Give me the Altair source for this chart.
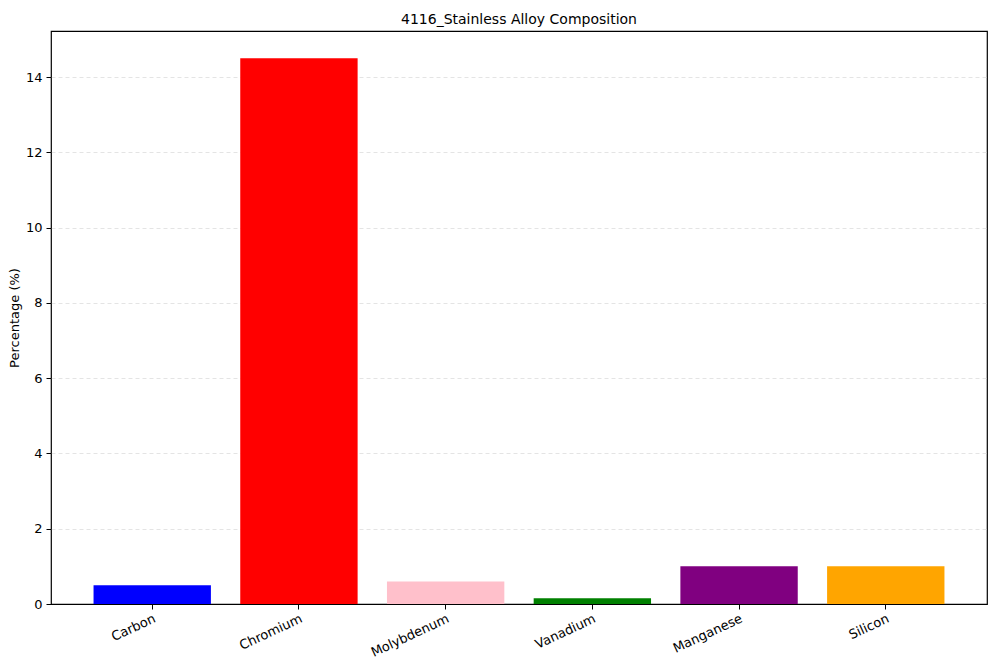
import altair as alt
import pandas as pd

elements = ["Carbon", "Chromium", "Molybdenum", "Vanadium", "Manganese", "Silicon"]
percentages = [0.5, 14.5, 0.6, 0.15, 1.0, 1.0]
colors = ["blue", "red", "pink", "green", "purple", "orange"]

df = pd.DataFrame({"Element": elements, "Percentage": percentages, "Color": colors})

font = "DejaVu Sans"

chart = alt.Chart(df).mark_bar().encode(
    x=alt.X(
        "Element:N",
        sort=elements,
        title=None,
        scale=alt.Scale(paddingInner=0.2, paddingOuter=0.29),
        axis=alt.Axis(
            labelAngle=335,
            labelAlign="right",
            labelBaseline="top",
            labelFont=font,
            labelFontSize=13,
            labelColor="black",
            tickColor="black",
            tickSize=5,
            domain=False,
            grid=False,
            labelPadding=3,
        ),
    ),
    y=alt.Y(
        "Percentage:Q",
        title="Percentage (%)",
        scale=alt.Scale(domain=[0, 15.225], nice=False, zero=True),
        axis=alt.Axis(
            values=[0, 2, 4, 6, 8, 10, 12, 14],
            labelFont=font,
            labelFontSize=13,
            labelColor="black",
            titleFont=font,
            titleFontSize=13,
            titleFontWeight="normal",
            titleColor="black",
            titlePadding=4,
            tickColor="black",
            tickSize=5,
            domain=False,
            grid=True,
            gridColor="#dddddd",
            gridDash=[4, 3],
            gridWidth=0.8,
            gridOpacity=alt.condition("datum.value == 0", alt.value(0), alt.value(1)),
            labelPadding=4,
        ),
    ),
    color=alt.Color("Color:N", scale=None, legend=None),
).properties(
    width=936,
    height=573,
    title=alt.TitleParams(
        "4116_Stainless Alloy Composition",
        font=font,
        fontSize=14,
        fontWeight="normal",
        color="black",
        offset=4,
    ),
    padding={"left": 0, "top": 5, "right": 5, "bottom": 5},
).configure(
    background="white",
).configure_view(
    stroke="black",
    strokeWidth=1.2,
)

chart.save("out.html", embed_options={"renderer": "svg", "actions": False})
